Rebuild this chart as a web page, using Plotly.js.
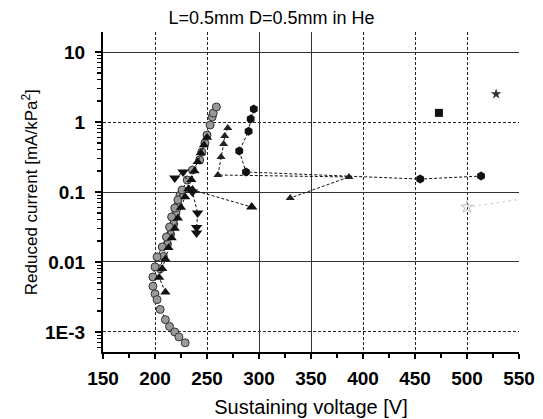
<!DOCTYPE html>
<html>
<head>
<meta charset="utf-8">
<script src="https://cdn.plot.ly/plotly-3.0.1.min.js"></script>
<style>html,body{margin:0;padding:0;background:#fff;}#chart{width:543px;height:419px;}</style>
</head>
<body>
<div id="chart"></div>
<script>
// ---- data (Sustaining voltage [V], Reduced current [mA/kPa^2]) ----
const grayUpperX = [198, 200, 202, 207, 211, 214, 216, 219, 222, 226, 231, 236, 243, 245, 248, 250, 253, 255, 256, 259];
const grayUpperY = [0.0061, 0.0085, 0.0118, 0.0164, 0.0228, 0.0316, 0.044, 0.059, 0.077, 0.107, 0.148, 0.206, 0.287, 0.373, 0.5, 0.652, 0.906, 1.18, 1.34, 1.64];

const grayLowerX = [198, 200, 202, 205, 210, 214, 219, 223, 229];
const grayLowerY = [0.0045, 0.0035, 0.0029, 0.0021, 0.0015, 0.0012, 0.001, 0.00085, 0.0007];

const grayMidX = [205, 208, 212, 215, 218, 220, 222, 224];
const grayMidY = [0.008, 0.012, 0.018, 0.025, 0.035, 0.05, 0.065, 0.09];

const triUpX = [210, 204, 207, 210, 213, 216, 219, 222, 225, 229, 232, 235, 238, 241, 244, 247, 250];
const triUpY = [0.0037, 0.006, 0.008, 0.011, 0.016, 0.022, 0.03, 0.042, 0.06, 0.085, 0.11, 0.15, 0.2, 0.27, 0.36, 0.47, 0.6];

const triDownX = [219, 227, 236, 241, 240, 240];
const triDownY = [0.158, 0.193, 0.1, 0.05, 0.031, 0.026];

const triBigX = [236, 293];
const triBigY = [0.107, 0.061];

const triSmallX = [270, 267, 266, 263.5, 260.5, 386.5, 330];
const triSmallY = [0.82, 0.63, 0.485, 0.316, 0.175, 0.164, 0.082];

const circleX = [295, 292, 290, 281, 287.5, 455, 513.5];
const circleY = [1.53, 1.10, 0.74, 0.385, 0.193, 0.153, 0.169];

const squareX = [473];
const squareY = [1.35];

const starX = [528];
const starY = [2.51];

const grayStarX = [500, 560];
const grayStarY = [0.061, 0.082];

// tick labels
const yTickVals = [0.001, 0.01, 0.1, 1, 10];
const yTickText = ['1E-3', '0.01', '0.1', '1', '10'];
const xTickVals = [150, 200, 250, 300, 350, 400, 450, 500, 550];
const xMinorVals = [175, 225, 275, 325, 375, 425, 475, 525];

// minor log ticks (2..9 in each decade)
const yMinorVals = [];
for (let k = -4; k <= 1; k++) for (let d = 2; d <= 9; d++) yMinorVals.push(d * Math.pow(10, k));

const dashLine = {color: '#111', width: 1, dash: '3px,2px'};
const grayMarker = {symbol: 'circle', size: 8, color: '#999', line: {color: '#333', width: 1}};

const traces = [
  {x: grayLowerX, y: grayLowerY, mode: 'lines+markers', line: dashLine, marker: grayMarker},
  {x: grayMidX, y: grayMidY, mode: 'lines+markers', line: dashLine, marker: grayMarker},
  {x: grayUpperX, y: grayUpperY, mode: 'lines+markers', line: dashLine, marker: grayMarker},
  {x: triUpX, y: triUpY, mode: 'lines+markers', line: dashLine,
   marker: {symbol: 'triangle-up', size: 9, color: '#111'}},
  {x: triDownX, y: triDownY, mode: 'lines+markers', line: dashLine,
   marker: {symbol: 'triangle-down', size: 10, color: '#111'}},
  {x: triBigX, y: triBigY, mode: 'lines+markers', line: dashLine,
   marker: {symbol: 'triangle-up', size: 10, color: '#111'}},
  {x: triSmallX, y: triSmallY, mode: 'lines+markers', line: dashLine,
   marker: {symbol: 'triangle-up', size: 8, color: '#222'}},
  {x: circleX, y: circleY, mode: 'lines+markers', line: dashLine,
   marker: {symbol: 'hexagon', size: 9, color: '#111'}},
  {x: starX, y: starY, mode: 'markers',
   marker: {symbol: 'star', size: 8, color: '#333'}},
  {x: grayStarX, y: grayStarY, mode: 'lines+markers', line: {color: '#bbb', width: 1, dash: '2px,4px'},
   marker: {symbol: 'star-open', size: 9, color: '#bbb'}},
  {x: squareX, y: squareY, mode: 'markers', xaxis: 'x2', yaxis: 'y2',
   marker: {symbol: 'square', size: 8, color: '#111'}}
];

const yRange = [-3.286, 1.286];
const xRange = [150, 550];
const FONT = 'Liberation Sans, Arial, sans-serif';
const tickFont = {family: FONT, size: 19, color: '#000', weight: 'bold'};

const layout = {
  width: 543, height: 419,
  margin: {l: 103, r: 24, t: 32, b: 67},
  paper_bgcolor: '#fff', plot_bgcolor: '#fff',
  showlegend: false,
  title: {text: 'L=0.5mm D=0.5mm in He', x: 0.5, xref: 'container', xanchor: 'center',
          y: 0.957, yref: 'container', yanchor: 'middle',
          font: {family: FONT, size: 18, color: '#000'}},
  xaxis: {
    type: 'linear', range: xRange, tickvals: xTickVals, ticktext: xTickVals.map(String),
    showline: true, linecolor: '#000', linewidth: 2, mirror: false,
    ticks: 'outside', ticklen: 5, tickwidth: 1.5, tickcolor: '#000', ticklabelstandoff: 3,
    minor: {tickmode: 'array', tickvals: xMinorVals, ticks: 'outside', ticklen: 4, tickwidth: 1.2, tickcolor: '#000', showgrid: false},
    showgrid: true, gridcolor: '#222', gridwidth: 1, griddash: '3px,2px',
    zeroline: false, tickfont: tickFont,
    title: {text: 'Sustaining voltage [V]', standoff: 12,
            font: {family: FONT, size: 20, color: '#000'}}
  },
  yaxis: {
    type: 'log', range: yRange, tickvals: yTickVals, ticktext: yTickText,
    showline: true, linecolor: '#000', linewidth: 2, mirror: false,
    ticks: 'outside', ticklen: 6, tickwidth: 1.5, tickcolor: '#000', ticklabelstandoff: 6,
    minor: {tickmode: 'array', tickvals: yMinorVals, ticks: 'outside', ticklen: 4, tickwidth: 1.2, tickcolor: '#000', showgrid: false},
    showgrid: true, gridcolor: '#222', gridwidth: 1, griddash: '3px,2px',
    zeroline: false, tickfont: tickFont
  },
  xaxis2: {
    type: 'linear', range: xRange, overlaying: 'x', anchor: 'y2',
    tickvals: [300, 350], showticklabels: false, ticks: '', showline: false,
    showgrid: true, gridcolor: '#333', gridwidth: 1, zeroline: false
  },
  yaxis2: {
    type: 'log', range: yRange, overlaying: 'y', anchor: 'x2',
    tickvals: [0.01, 0.1, 10], showticklabels: false, ticks: '', showline: false,
    showgrid: true, gridcolor: '#333', gridwidth: 1, zeroline: false
  },
  annotations: [{
    text: 'Reduced current [mA/kPa<sup>2</sup>]', textangle: -90,
    xref: 'paper', yref: 'paper', x: -0.175, y: 0.5,
    xanchor: 'center', yanchor: 'middle', showarrow: false,
    font: {family: FONT, size: 17, color: '#000'}
  }]
};

Plotly.newPlot('chart', traces, layout, {staticPlot: true, displayModeBar: false});
</script>
</body>
</html>
